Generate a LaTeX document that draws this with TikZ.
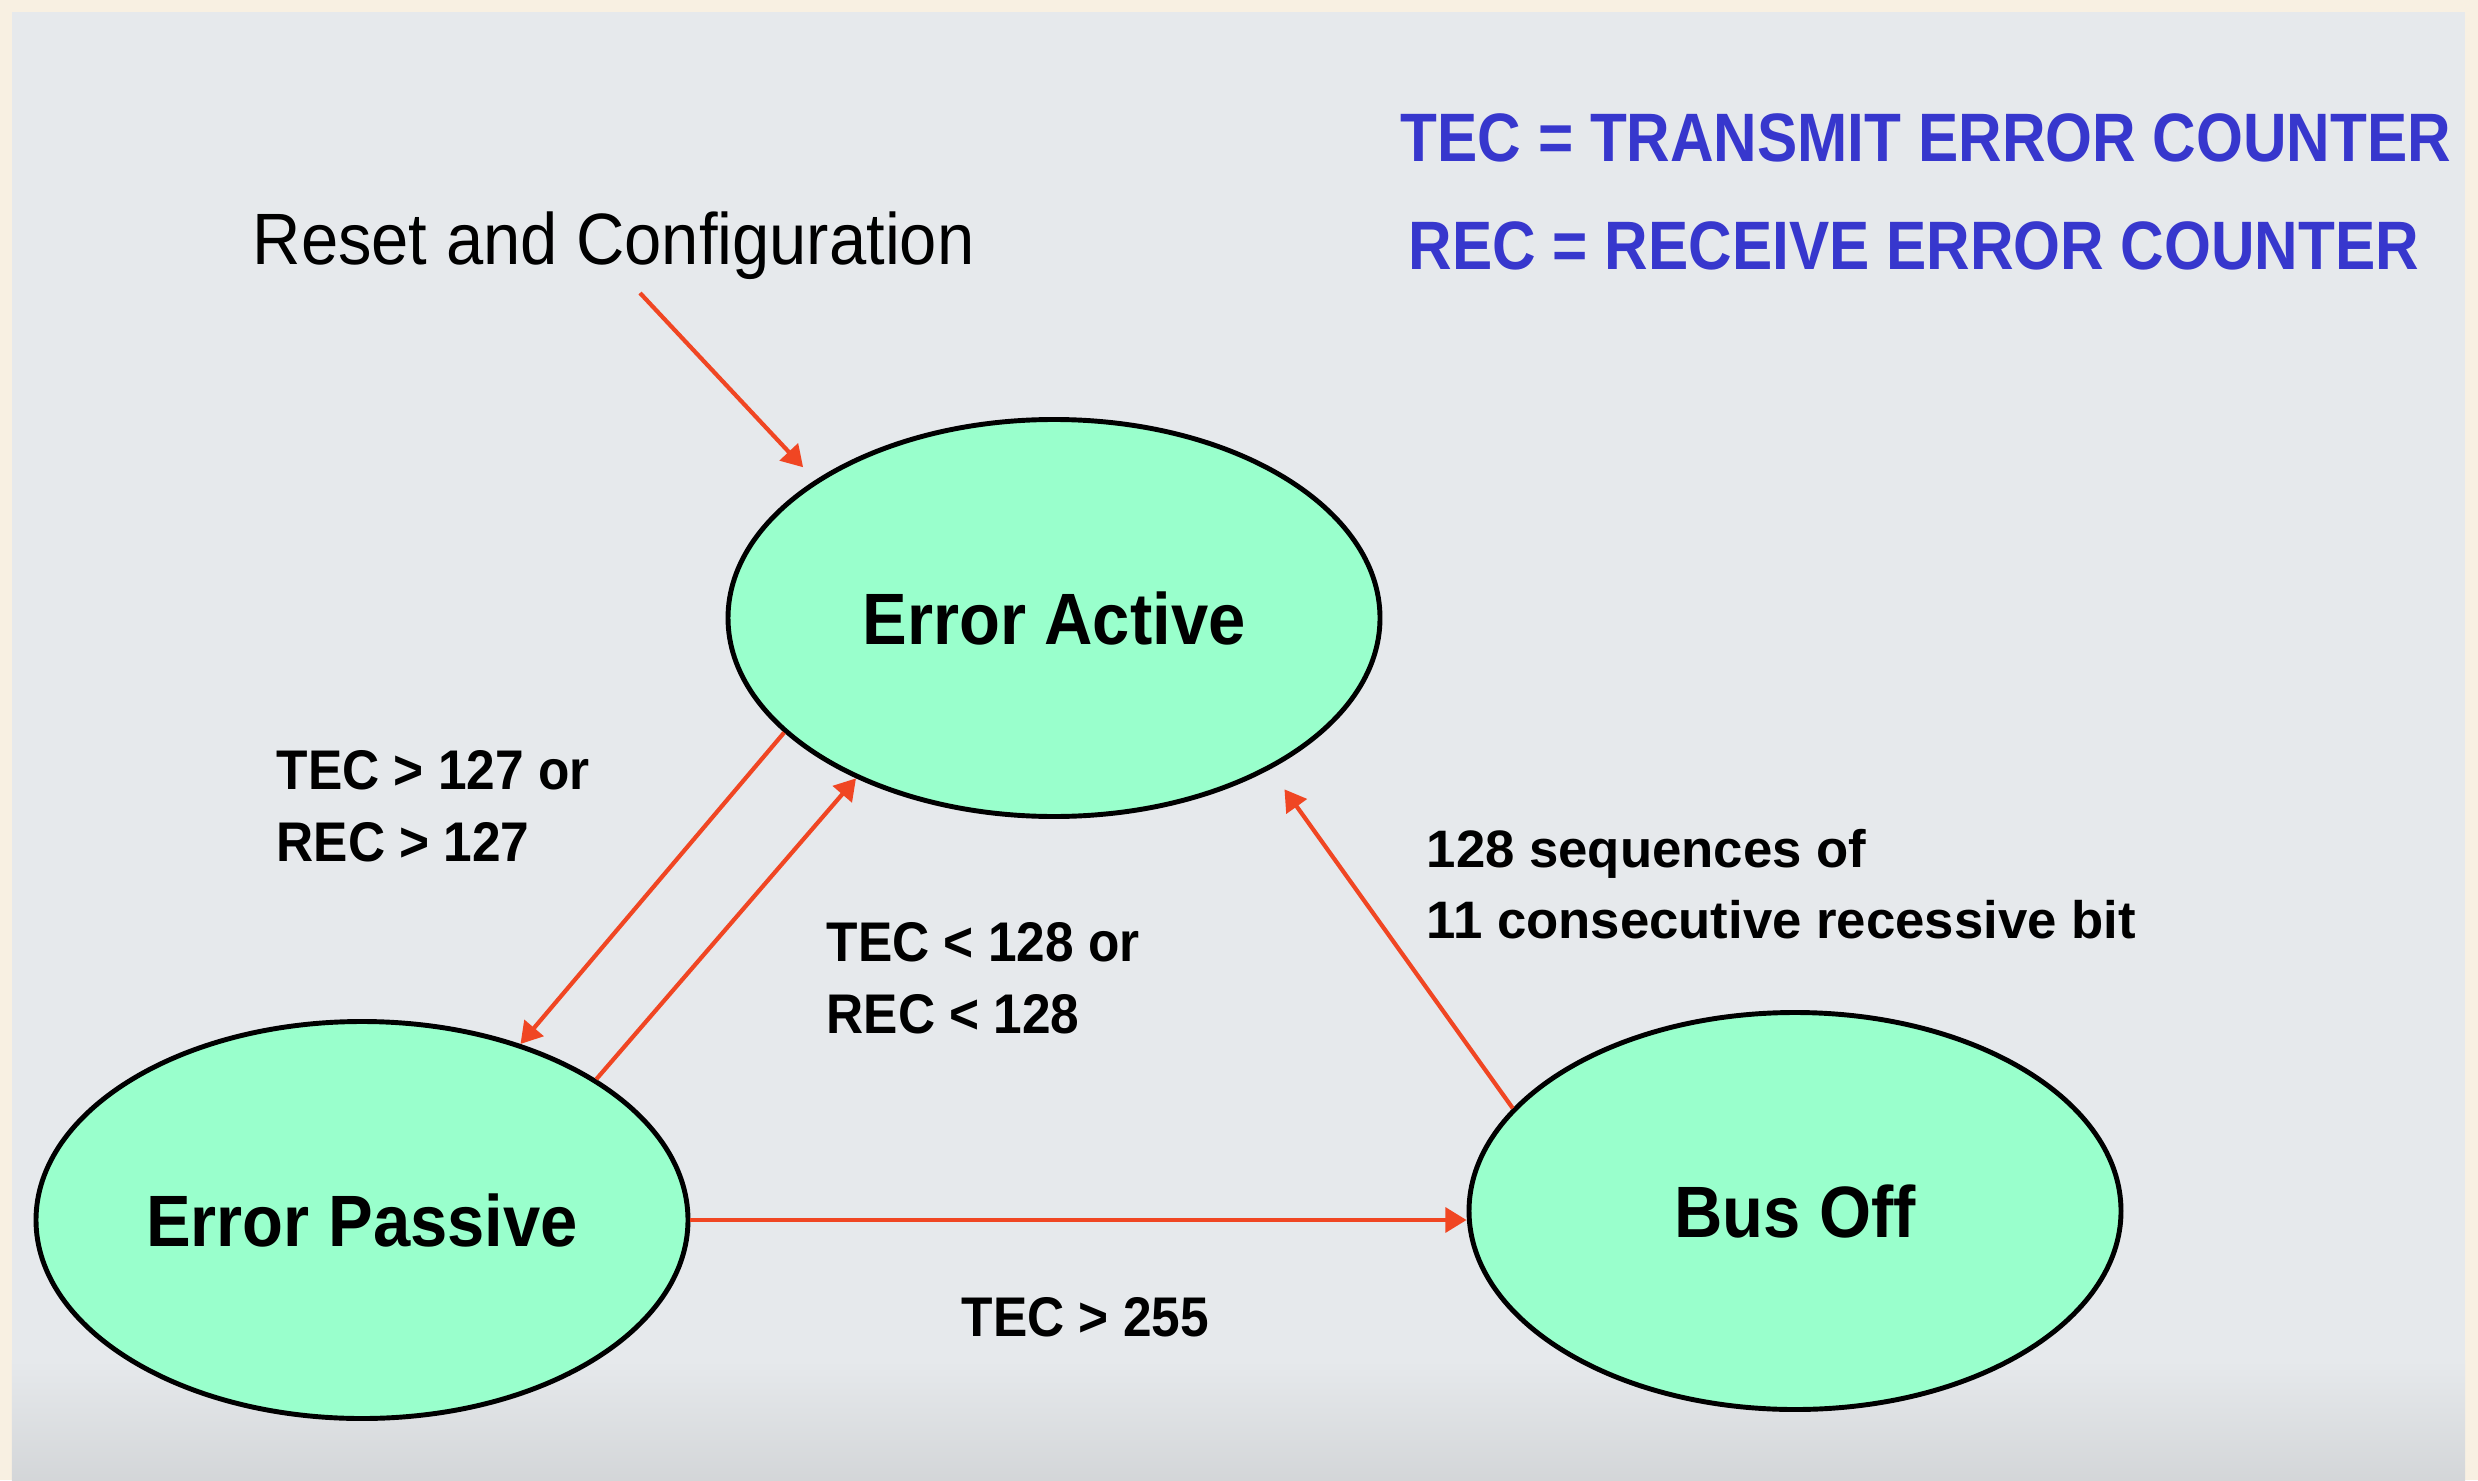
\documentclass[tikz,border=0pt]{standalone}
\usepackage{fontspec}
\setmainfont{Liberation Sans}
\newfontfamily\narrowfont[FakeStretch=0.92]{Liberation Sans}
\newfontfamily\keyfont[FakeStretch=0.88]{Liberation Sans}
\usetikzlibrary{shapes.geometric,arrows.meta}

\definecolor{framecolor}{RGB}{248,240,226}
\definecolor{panelcolor}{RGB}{230,233,236}
\definecolor{statefill}{RGB}{153,255,204}
\definecolor{keyblue}{RGB}{55,55,205}
\definecolor{arrowred}{RGB}{240,70,35}

\tikzset{
  state/.style={ellipse, draw=black, line width=1.4pt, fill=statefill,
    minimum width=6.52cm, minimum height=3.97cm, inner sep=0pt,
    font=\narrowfont\bfseries\fontsize{20.7}{24}\selectfont},
  transition/.style={draw=arrowred, line width=1.2pt,
    -{Triangle[length=6pt,width=7pt]}},
  cond/.style={inner sep=0pt, align=left,
    font=\narrowfont\bfseries\fontsize{15.9}{20.4}\selectfont},
  keytext/.style={inner sep=0pt, text=keyblue,
    font=\keyfont\bfseries\fontsize{19.5}{22}\selectfont},
}

\begin{document}
\begin{tikzpicture}
  \useasboundingbox (0,0) rectangle (24.78,14.80);
  % frame and panel
  \fill[framecolor] (0,0) rectangle (24.78,14.80);
  \fill[panelcolor] (0.12,0) rectangle (24.65,14.68);
  \shade[top color=panelcolor, bottom color=gray!18!panelcolor]
    (0.12,0) rectangle (24.65,1.2);

  % legend
  \node[keytext, anchor=base west] (tec) at (14.00,13.18) {TEC = TRANSMIT ERROR COUNTER};
  \node[keytext, anchor=base west] (rec) at (14.08,12.10) {REC = RECEIVE ERROR COUNTER};

  % states
  \node[state] (EA) at (10.54,8.62) {Error Active};
  \node[state] (EP) at (3.62,2.60) {Error Passive};
  \node[state] (BO) at (17.95,2.69) {Bus Off};

  % entry point
  \node[anchor=base west, inner sep=0pt,
    font=\narrowfont\fontsize{20.7}{24}\selectfont] (reset) at (2.52,12.15)
    {Reset and Configuration};
  \coordinate (resetstart) at (6.40,11.87);
  \draw[transition, shorten >=5pt] (resetstart) -- (EA.150);

  % transitions
  \draw[transition] (EA.203) -- (EP.48);
  \draw[transition] (EP.31) -- (EA.219);
  \draw[transition] (EP.east) -- (EP.east -| BO.west);
  \draw[transition, shorten >=7pt] (BO.160) -- (EA.325);

  % transition conditions
  \node[cond, anchor=west] (up) at (2.76,6.74) {TEC > 127 or\\REC > 127};
  \node[cond, anchor=west] (down) at (8.26,5.02) {TEC < 128 or\\REC < 128};
  \node[cond, anchor=base west] (off) at (9.61,1.44) {TEC > 255};
  \node[inner sep=0pt, align=left, anchor=west,
    font=\bfseries\fontsize{15}{20.4}\selectfont] (recover) at (14.26,5.96)
    {128 sequences of\\11 consecutive recessive bit};
\end{tikzpicture}
\end{document}
